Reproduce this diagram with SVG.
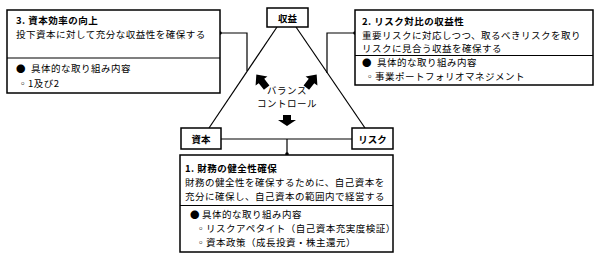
<svg xmlns="http://www.w3.org/2000/svg" width="600" height="259" viewBox="0 0 600 259">
<defs>
<style>
text{font-family:"Noto Sans CJK JP","Noto Sans CJK SC",sans-serif;font-size:9.5px;letter-spacing:0.5px;fill:#000}
.b{font-weight:bold}
.box{fill:#fff;stroke:#000;stroke-width:1.5}
.div{stroke:#000;stroke-width:1.2}
.ln{fill:none;stroke:#000;stroke-width:1.2}
.lbl{text-anchor:middle;font-weight:bold;letter-spacing:0}
.arr{fill:#000}
</style>
<path id="arrow" d="M-3.5,-8 L3.5,-8 L3.5,0 L7.5,0 L0,8 L-7.5,0 L-3.5,0 Z"/>
</defs>
<rect width="600" height="259" fill="#fff"/>
<g id="connectors">
<polyline class="ln" points="277,27 209,128"/>
<polyline class="ln" points="296,27 365,128"/>
<line class="ln" x1="221" y1="139" x2="352" y2="139"/>
<line class="ln" x1="287" y1="139" x2="287" y2="155"/>
<circle cx="287" cy="154" r="1.8"/>
<polyline class="ln" points="220,33 247,33 247,71"/>
<circle cx="220" cy="33" r="1.8"/>
<polyline class="ln" points="355,33 327,33 327,73"/>
<circle cx="355" cy="33" r="1.8"/>
</g>
<g id="center">
<use href="#arrow" class="arr" transform="translate(261.5,81) rotate(142) scale(1,1.05)"/>
<use href="#arrow" class="arr" transform="translate(311.5,81) rotate(-142) scale(1,1.05)"/>
<path class="arr" d="M283,115 L291,115 L291,120 L296,120 L287,126 L278,120 L283,120 Z"/>
<text x="287" y="93.5" text-anchor="middle">バランス</text>
<text x="287" y="106.5" text-anchor="middle">コントロール</text>
</g>
<g id="node-shueki">
<rect class="box" x="267" y="8" width="41" height="19"/>
<text class="lbl" x="287.5" y="21.5">収益</text>
</g>
<g id="node-shihon">
<rect class="box" x="181" y="128" width="40" height="21"/>
<text class="lbl" x="201" y="142.5">資本</text>
</g>
<g id="node-risk">
<rect class="box" x="352" y="128" width="41" height="21"/>
<text class="lbl" x="372.5" y="142.5">リスク</text>
</g>
<g id="node-3">
<rect class="box" x="7" y="10" width="213" height="83"/>
<line class="div" x1="7" y1="58" x2="220" y2="58"/>
<text class="b" x="16" y="23.6">3. 資本効率の向上</text>
<text x="16" y="37.6">投下資本に対して充分な収益性を確保する</text>
<text x="16" y="72.4">●<tspan x="31">具体的な取り組み内容</tspan></text>
<text x="18" y="86.8">◦1及び2</text>
</g>
<g id="node-2">
<rect class="box" x="355" y="10" width="238" height="75"/>
<line class="div" x1="355" y1="55.5" x2="593" y2="55.5"/>
<text class="b" x="362" y="24.6">2. リスク対比の収益性</text>
<text x="362" y="38.6">重要リスクに対応しつつ、取るべきリスクを取り</text>
<text x="362" y="52">リスクに見合う収益を確保する</text>
<text x="362" y="65.6">●<tspan x="377">具体的な取り組み内容</tspan></text>
<text x="365" y="80">◦事業ポートフォリオマネジメント</text>
</g>
<g id="node-1">
<rect class="box" x="180" y="155" width="213" height="97"/>
<line class="div" x1="180" y1="205.5" x2="393" y2="205.5"/>
<text class="b" x="185" y="171.6">1. 財務の健全性確保</text>
<text x="185" y="185.6">財務の健全性を確保するために、自己資本を</text>
<text x="185" y="199.6">充分に確保し、自己資本の範囲内で経営する</text>
<text x="190" y="217.6">●<tspan x="202">具体的な取り組み内容</tspan></text>
<text x="196" y="231.6">◦リスクアペタイト（自己資本充実度検証）</text>
<text x="196" y="245.6">◦資本政策（成長投資・株主還元）</text>
</g>
</svg>
